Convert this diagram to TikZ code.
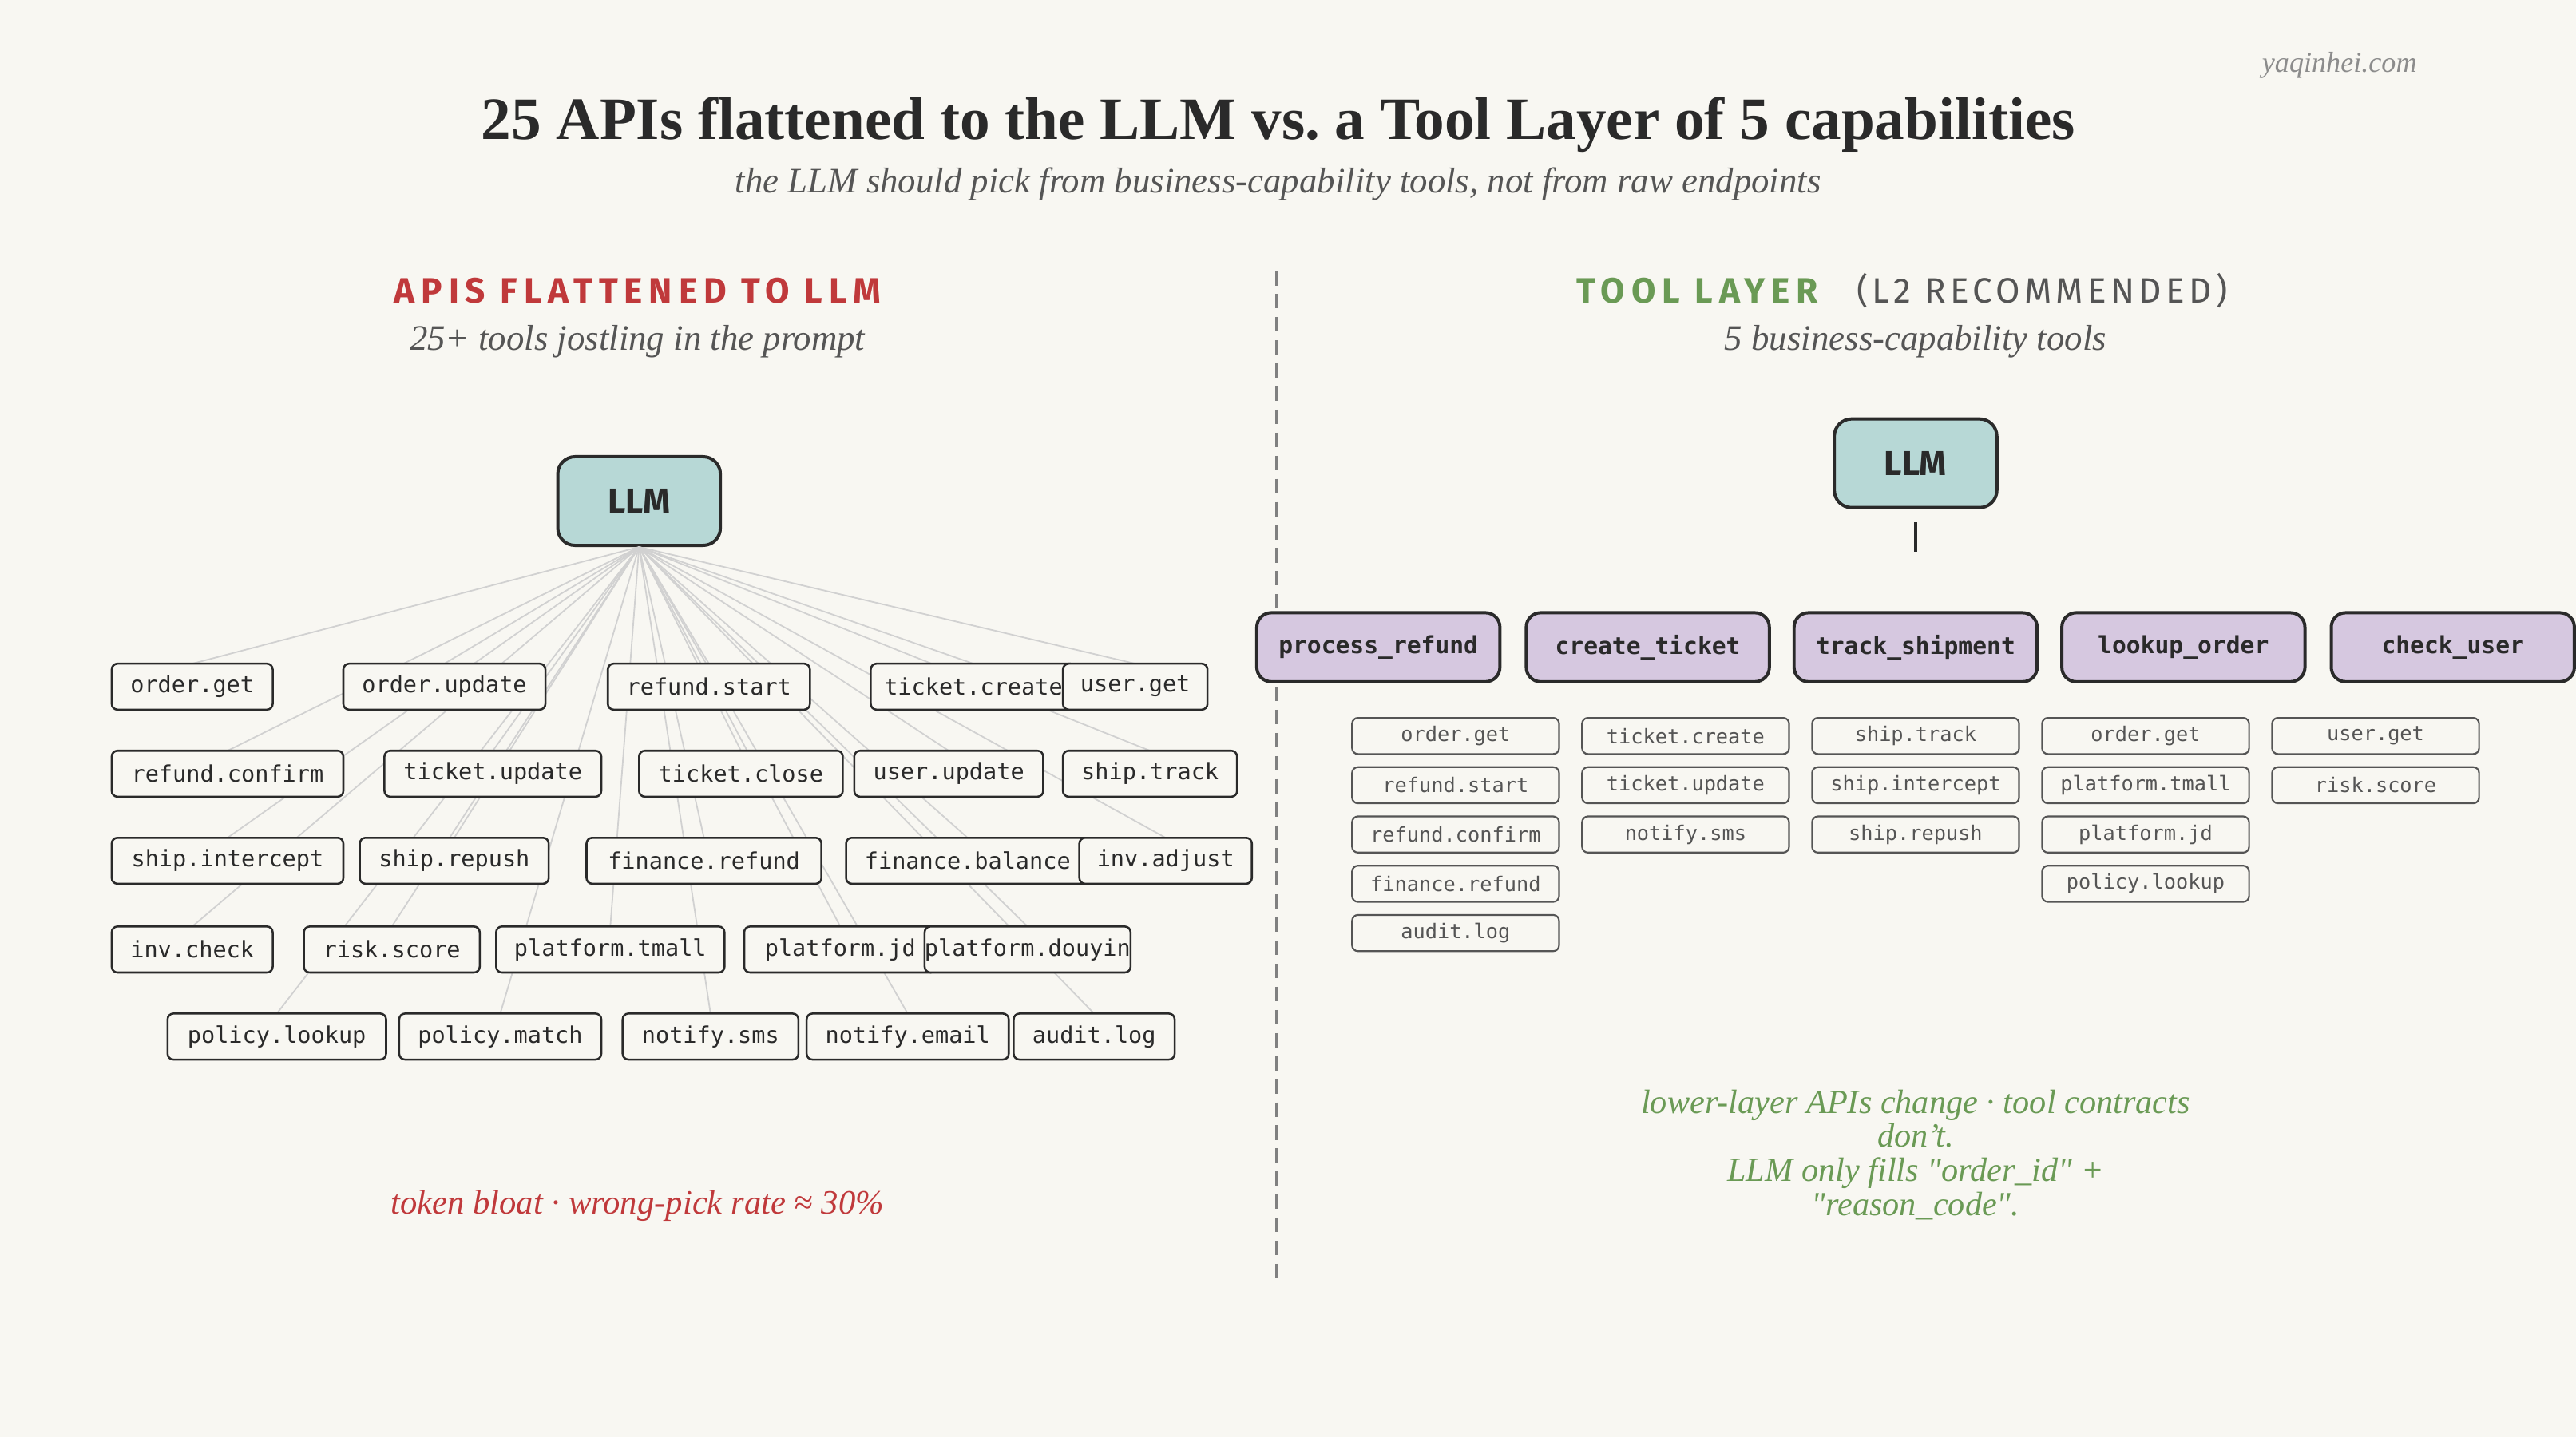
\documentclass[tikz,border=0pt]{standalone}
\usepackage{fontspec}
\setmainfont{Liberation Serif}
\setsansfont{Fira Sans}
\setmonofont{DejaVu Sans Mono}
\definecolor{bg}{HTML}{F8F7F2}
\definecolor{llmfill}{HTML}{B7D8D6}
\definecolor{toolfill}{HTML}{D6C8E0}
\definecolor{redhead}{HTML}{C0393B}
\definecolor{greenhead}{HTML}{6A9A55}
\definecolor{inkdark}{HTML}{2A2A2A}
\definecolor{graytext}{HTML}{555555}
\tikzset{
  api/.style={draw=inkdark, fill=bg, rounded corners=2pt, line width=0.7pt, minimum height=0.56cm, inner sep=0pt, font=\ttfamily\fontsize{7.9}{10}\selectfont, text=inkdark},
  sub/.style={draw=graytext, fill=bg, rounded corners=2pt, line width=0.6pt, minimum width=2.52cm, minimum height=0.44cm, inner sep=0pt, font=\ttfamily\fontsize{7}{9}\selectfont, text=graytext},
  tool/.style={draw=inkdark, fill=toolfill, rounded corners=5pt, line width=1.1pt, minimum width=2.96cm, minimum height=0.84cm, font=\ttfamily\bfseries\fontsize{8.2}{10}\selectfont, text=inkdark},
  llm/.style={draw=inkdark, fill=llmfill, rounded corners=6pt, line width=1.1pt, minimum width=1.98cm, minimum height=1.08cm, font=\sffamily\bfseries\fontsize{12}{14}\selectfont, text=inkdark},
  link/.style={draw=black!18, line width=0.5pt},
}
\begin{document}
\begin{tikzpicture}[x=0.02cm,y=-0.02cm]
\fill[bg] (0,0) rectangle (1568,875);
\useasboundingbox (0,0) rectangle (1568,875);
% title
\node[text=inkdark] (title) at (778,76) {\fontsize{20.8}{24}\selectfont\bfseries 25 APIs flattened to the LLM vs.\ a Tool Layer of 5 capabilities};
\node[text=graytext] (subtitle) at (778,112) {\fontsize{12.4}{15}\selectfont\itshape the LLM should pick from business-capability tools, not from raw endpoints};
\node[text=black!45] (site) at (1424,40) {\fontsize{10}{12}\selectfont\itshape yaqinhei.com};
% divider
\coordinate (divtop) at (777,165);
\coordinate (divbot) at (777,778);
\draw[black!50, line width=0.8pt, dash pattern=on 5pt off 3pt] (divtop) -- (divbot);
% left side
\node[text=redhead] (lhead) at (388,177) {\sffamily\bfseries\fontsize{12.2}{14}\selectfont\addfontfeature{LetterSpace=18}APIS FLATTENED TO LLM};
\node[text=graytext] (lsub) at (388,208) {\fontsize{12.4}{15}\selectfont\itshape 25+ tools jostling in the prompt};
\node[llm] (llmL) at (389,305) {LLM};
\foreach \n/\lbl/\x/\y/\w in {
  a1/order.get/117/418/98, a2/order.update/270.5/418/123, a3/refund.start/431.5/418/123, a4/ticket.create/592.5/418/125, a5/user.get/691/418/88,
  b1/refund.confirm/138.5/471/141, b2/ticket.update/300/471/132, b3/ticket.close/451/471/124, b4/user.update/577.5/471/115, b5/ship.track/700/471/106,
  c1/ship.intercept/138.5/524/141, c2/ship.repush/276.5/524/115, c3/finance.refund/428.5/524/143, c4/finance.balance/589/524/148, c5/inv.adjust/709.5/524/105,
  d1/inv.check/117/578/98, d2/risk.score/238.5/578/107, d3/platform.tmall/371.5/578/139, d4/platform.jd/511.5/578/117, d5/platform.douyin/625.5/578/121,
  e1/policy.lookup/168.5/631/133, e2/policy.match/304.5/631/123, e3/notify.sms/432.5/631/107, e4/notify.email/552.5/631/123, e5/audit.log/666/631/98}
  \draw[link] (llmL.south) -- (\x,\y-14);
\foreach \n/\lbl/\x/\y/\w in {
  a1/order.get/117/418/98, a2/order.update/270.5/418/123, a3/refund.start/431.5/418/123, a4/ticket.create/592.5/418/125, a5/user.get/691/418/88,
  b1/refund.confirm/138.5/471/141, b2/ticket.update/300/471/132, b3/ticket.close/451/471/124, b4/user.update/577.5/471/115, b5/ship.track/700/471/106,
  c1/ship.intercept/138.5/524/141, c2/ship.repush/276.5/524/115, c3/finance.refund/428.5/524/143, c4/finance.balance/589/524/148, c5/inv.adjust/709.5/524/105,
  d1/inv.check/117/578/98, d2/risk.score/238.5/578/107, d3/platform.tmall/371.5/578/139, d4/platform.jd/511.5/578/117, d5/platform.douyin/625.5/578/121,
  e1/policy.lookup/168.5/631/133, e2/policy.match/304.5/631/123, e3/notify.sms/432.5/631/107, e4/notify.email/552.5/631/123, e5/audit.log/666/631/98}
  \node[api, minimum width=\w*0.02cm] (\n) at (\x,\y) {\lbl};
\node[text=redhead] (lfoot) at (388,734) {\fontsize{11.8}{14}\selectfont\itshape token bloat · wrong-pick rate ≈ 30\%};
% right side
\node[anchor=east, text=greenhead] (rhead) at (1113,177) {\sffamily\bfseries\fontsize{12.2}{14}\selectfont\addfontfeature{LetterSpace=18}TOOL LAYER};
\node[anchor=west, text=graytext] (rhead2) at (1124,177) {\sffamily\fontsize{12.2}{14}\selectfont\addfontfeature{LetterSpace=12}(L2 RECOMMENDED)};
\node[text=graytext] (rsub) at (1166,208) {\fontsize{12.4}{15}\selectfont\itshape 5 business-capability tools};
\node[llm] (llmR) at (1166,282) {LLM};
\coordinate (stubtop) at (1166,318);
\coordinate (stubbot) at (1166,336);
\draw[inkdark, line width=0.9pt] (stubtop) -- (stubbot);
\foreach \n/\lbl/\x in {t1/process\_refund/839, t2/create\_ticket/1003, t3/track\_shipment/1166, t4/lookup\_order/1329, t5/check\_user/1493}
  \node[tool] (\n) at (\x,394) {\lbl};
\foreach \lbl/\x/\y in {
  order.get/886/448, refund.start/886/478, refund.confirm/886/508, finance.refund/886/538, audit.log/886/568,
  ticket.create/1026/448, ticket.update/1026/478, notify.sms/1026/508,
  ship.track/1166/448, ship.intercept/1166/478, ship.repush/1166/508,
  order.get/1306/448, platform.tmall/1306/478, platform.jd/1306/508, policy.lookup/1306/538,
  user.get/1446/448, risk.score/1446/478}
  \node[sub] at (\x,\y) {\lbl};
\node[text=greenhead, align=center, font=\itshape\fontsize{11.7}{11.8}\selectfont] (rfoot) at (1166,703) {lower-layer APIs change · tool contracts\\ don't.\\ LLM only fills \textquotedbl order\_id\textquotedbl{} +\\ \textquotedbl reason\_code\textquotedbl.};
\end{tikzpicture}
\end{document}
